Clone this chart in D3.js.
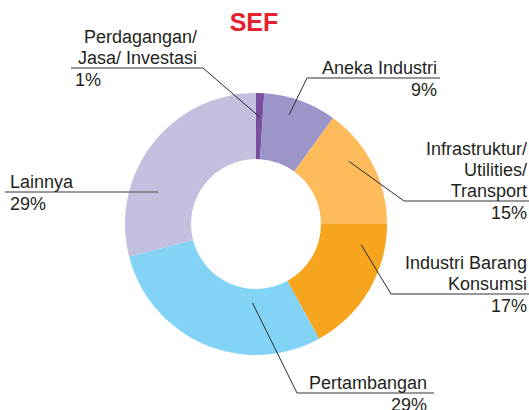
<!DOCTYPE html>
<html>
<head>
<meta charset="utf-8">
<script src="https://cdn.jsdelivr.net/npm/d3@7"></script>
<style>
  body { margin: 0; background: #fff; }
  svg { display: block; font-family: "Liberation Sans", Arial, sans-serif; }
</style>
</head>
<body>
<svg id="chart" width="529" height="410"></svg>
<script>
// data
var title = "SEF";
var sectors = ["Perdagangan/ Jasa/ Investasi", "Aneka Industri", "Infrastruktur/ Utilities/ Transport",
               "Industri Barang Konsumsi", "Pertambangan", "Lainnya"];
var shares = [1, 9, 15, 17, 29, 29];
var labelLines = [["Perdagangan/", "Jasa/ Investasi"], ["Aneka Industri"], ["Infrastruktur/", "Utilities/", "Transport"],
                  ["Industri Barang", "Konsumsi"], ["Pertambangan"], ["Lainnya"]];
var colors = ["#7b4fa0", "#9b95c9", "#fdbb5c", "#f7a51f", "#82d3f6", "#c2bfdf"];

// label placement (x of text, y of underline, elbow, where the leader touches the slice)
var layout = [
  { textX: 197, anchor: "end", pctX: 75, pctAnchor: "start", lineY: 68, x0: 71, x1: 203, elbow: 203, at: 0.55, r: 107 },
  { textX: 437, anchor: "end", pctX: 437, pctAnchor: "end", lineY: 78, x0: 307, x1: 440, elbow: 307, at: 0.41, r: 114 },
  { textX: 527, anchor: "end", pctX: 527, pctAnchor: "end", lineY: 201, x0: 404, x1: 529, elbow: 404, at: 0.37, r: 112 },
  { textX: 527, anchor: "end", pctX: 527, pctAnchor: "end", lineY: 294, x0: 391, x1: 529, elbow: 391, at: 0.18, r: 107 },
  { textX: 427, anchor: "end", pctX: 427, pctAnchor: "end", lineY: 393, x0: 297, x1: 434, elbow: 297, at: 0.30, r: 79 },
  { textX: 10, anchor: "start", pctX: 10, pctAnchor: "start", lineY: 192, x0: 5, x1: 158, elbow: 158, at: 0.31, r: 103 }
];

var cx = 256, cy = 224, outerR = 131, innerR = 65;
var lineH = 21;

var svg = d3.select("#chart");

svg.append("text")
    .attr("x", 254).attr("y", 31)
    .attr("text-anchor", "middle")
    .attr("font-size", 25).attr("font-weight", "bold")
    .attr("fill", "#e62230")
    .text(title);

var pie = d3.pie().sort(null).value(function (d) { return d; });
var arcs = pie(shares);

var arc = d3.arc().innerRadius(innerR).outerRadius(outerR);

var g = svg.append("g").attr("transform", "translate(" + cx + "," + cy + ")");

g.selectAll("path")
    .data(arcs)
    .enter().append("path")
    .attr("d", arc)
    .attr("fill", function (d, i) { return colors[i]; });

// leader lines and labels
arcs.forEach(function (d, i) {
    var L = layout[i];
    var a = d.startAngle + (d.endAngle - d.startAngle) * L.at;
    var px = cx + Math.sin(a) * L.r;
    var py = cy - Math.cos(a) * L.r;

    svg.append("line")
        .attr("x1", L.x0).attr("x2", L.x1)
        .attr("y1", L.lineY).attr("y2", L.lineY)
        .attr("stroke", "#777").attr("stroke-width", 1.6);

    svg.append("line")
        .attr("x1", L.elbow).attr("y1", L.lineY)
        .attr("x2", px).attr("y2", py)
        .attr("stroke", "#2b2b2b").attr("stroke-width", 1);

    var lines = labelLines[i];
    lines.forEach(function (t, k) {
        svg.append("text")
            .attr("x", L.textX)
            .attr("y", L.lineY - 4 - (lines.length - 1 - k) * lineH)
            .attr("text-anchor", L.anchor)
            .attr("font-size", 18)
            .attr("fill", "#231f20")
            .text(t);
    });

    svg.append("text")
        .attr("x", L.pctX)
        .attr("y", L.lineY + 18)
        .attr("text-anchor", L.pctAnchor)
        .attr("font-size", 18)
        .attr("fill", "#231f20")
        .text(shares[i] + "%");
});
</script>
</body>
</html>
